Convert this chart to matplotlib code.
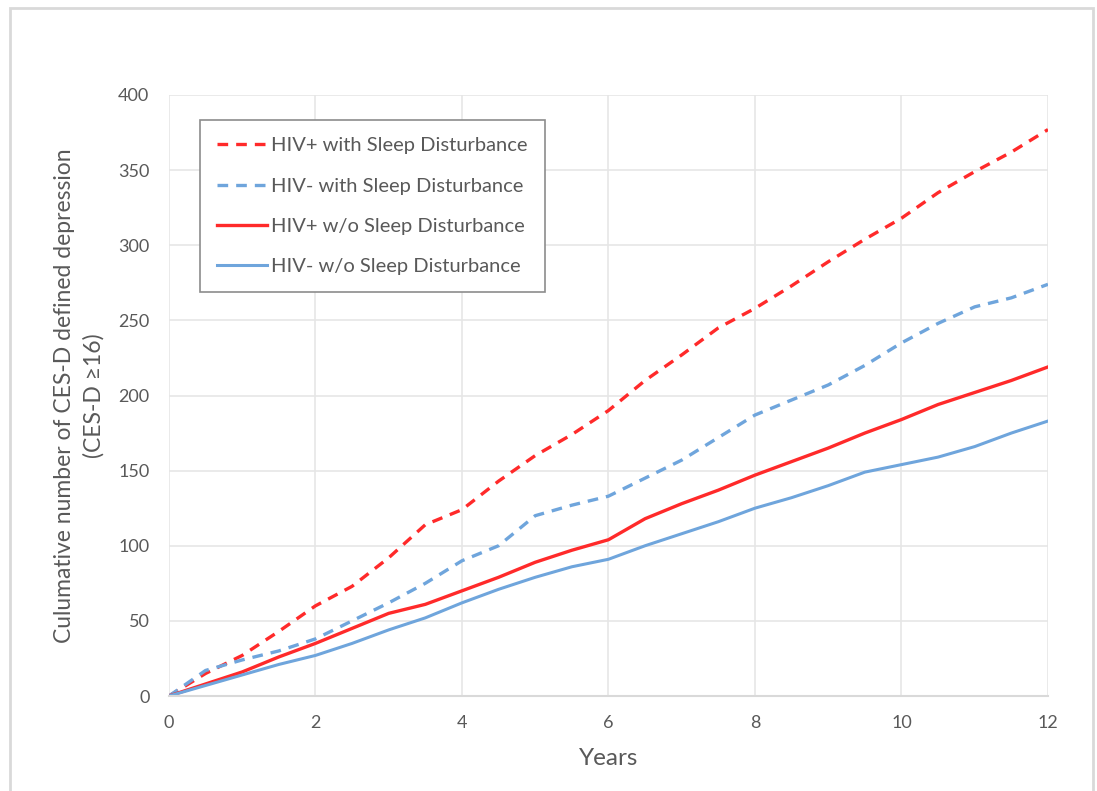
import matplotlib
matplotlib.use("Agg")
import matplotlib.pyplot as plt
from matplotlib.patches import Rectangle

plt.rcParams["font.family"] = ["Lato", "DejaVu Sans"]

years = [0, 0.5, 1, 1.5, 2, 2.5, 3, 3.5, 4, 4.5, 5, 5.5, 6, 6.5, 7, 7.5,
         8, 8.5, 9, 9.5, 10, 10.5, 11, 11.5, 12]

hiv_pos_sd = [0, 15, 27, 43, 60, 73, 92, 114, 124, 143, 160, 174, 190, 210,
              227, 245, 258, 273, 289, 304, 318, 335, 349, 362, 377]
hiv_neg_sd = [0, 17, 24, 30, 38, 50, 62, 75, 90, 100, 120, 127, 133, 145,
              157, 172, 187, 197, 207, 220, 235, 248, 259, 265, 274]
hiv_pos_nosd = [0, 8, 16, 26, 35, 45, 55, 61, 70, 79, 89, 97, 104, 118,
                128, 137, 147, 156, 165, 175, 184, 194, 202, 210, 219]
hiv_neg_nosd = [0, 7, 14, 21, 27, 35, 44, 52, 62, 71, 79, 86, 91, 100,
                108, 116, 125, 132, 140, 149, 154, 159, 166, 175, 183]

labels = ["HIV+ with Sleep Disturbance", "HIV- with Sleep Disturbance",
          "HIV+ w/o Sleep Disturbance", "HIV- w/o Sleep Disturbance"]

RED = "#ff2a2a"
BLUE = "#6fa5dc"
TXT = "#595959"
GRID = "#e6e6e6"

fig = plt.figure(figsize=(10.97, 7.91), dpi=100)
ax = fig.add_axes([0.154, 0.1201, 0.8013, 0.7598])

dash = (0, (3.2, 2.4))
ax.plot(years, hiv_pos_sd, color=RED, lw=2.4, ls=dash, label=labels[0])
ax.plot(years, hiv_neg_sd, color=BLUE, lw=2.4, ls=dash, label=labels[1])
ax.plot(years, hiv_pos_nosd, color=RED, lw=2.4, label=labels[2])
ax.plot(years, hiv_neg_nosd, color=BLUE, lw=2.2, label=labels[3])

ax.set_xlim(0, 12)
ax.set_ylim(0, 400)
ax.set_xticks(range(0, 13, 2))
ax.set_yticks(range(0, 401, 50))
ax.grid(True, color=GRID, lw=1.2)
ax.set_axisbelow(True)
for s in ["top", "right", "left"]:
    ax.spines[s].set_visible(False)
ax.spines["bottom"].set_color("#d9d9d9")
ax.spines["bottom"].set_linewidth(1.5)
ax.tick_params(length=0, labelsize=13, colors=TXT, pad=14)

ax.set_xlabel("Years", fontsize=17.5, color=TXT, labelpad=12)
ax.set_ylabel("Culumative number of CES-D defined depression\n(CES-D \u226516)",
              fontsize=16.5, color=TXT, labelpad=10, linespacing=1.45)

leg = ax.legend(loc="upper left", bbox_to_anchor=(0.035, 0.958),
                borderaxespad=0, fontsize=14.5, frameon=True, fancybox=False,
                edgecolor="#8c8c8c", framealpha=1, handlelength=2.5,
                handletextpad=0.2, labelspacing=1.15, borderpad=0.85)
leg.get_frame().set_linewidth(1.2)
for t in leg.get_texts():
    t.set_color(TXT)

fig.patches.append(Rectangle((10 / 1097, -0.02), 1083 / 1097, (783 / 791) + 0.02,
                             transform=fig.transFigure, fill=False,
                             edgecolor="#d9d9d9", lw=2))

fig.savefig("out.png", dpi=100)
